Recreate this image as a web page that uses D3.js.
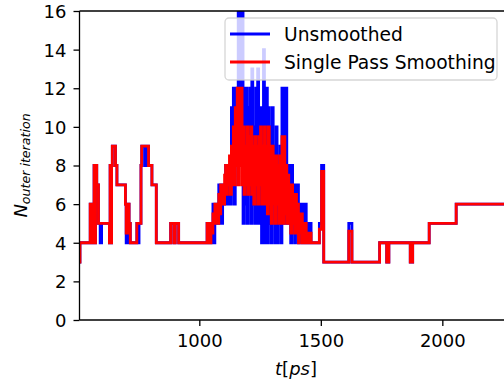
<!DOCTYPE html>
<html lang="en">
<head>
<meta charset="utf-8" />
<title>outer iterations</title>
<script src="https://d3js.org/d3.v7.min.js"></script>
<style>
  body { margin: 0; background: #fff; }
  svg text { font-family: "DejaVu Sans", sans-serif; fill: #000; }
</style>
</head>
<body>
<div id="chart"></div>
<script>
// time breakpoints [ps] and iteration counts
const timesEarly = [507, 509, 551, 554, 557, 560, 563, 567, 570, 573,
  578, 585, 592, 598, 630, 633, 636, 639, 642, 655,
  661, 696, 699, 702, 705, 708, 711, 716, 743, 749,
  752, 760, 763, 775, 779, 791, 805, 823, 882, 895,
  901, 915];
const unsmoothedEarly = [3, 4, 6, 4, 6, 4, 6, 8, 4, 8,
  7, 5, 4, 5, 4, 8, 4, 8, 9, 8,
  7, 6, 4, 6, 4, 6, 5, 4, 5, 4,
  5, 8, 9, 8, 9, 8, 7, 4, 5, 4,
  5, 4];
const smoothedEarly = [3, 4, 6, 4, 6, 4, 6, 8, 4, 8,
  7, 5, 5, 5, 4, 8, 4, 8, 9, 8,
  7, 6, 4.5, 6, 4.5, 6, 5, 4, 5, 5,
  5, 8, 9, 9, 9, 8, 7, 4, 5, 4,
  5, 4];

const timesBurst = [1032, 1036, 1040, 1044, 1048, 1052, 1056, 1060, 1064, 1068,
  1072, 1076, 1080, 1084, 1088, 1092, 1096, 1100, 1104, 1108,
  1112, 1116, 1120, 1124, 1128, 1132, 1136, 1140, 1144, 1148,
  1152, 1156, 1160, 1164, 1168, 1172, 1176, 1180, 1184, 1188,
  1192, 1196, 1200, 1204, 1208, 1212, 1216, 1220, 1224, 1228,
  1232, 1236, 1240, 1244, 1248, 1252, 1256, 1260, 1264, 1268,
  1272, 1276, 1280, 1284, 1288, 1292, 1296, 1300, 1304, 1308,
  1312, 1316, 1320, 1324, 1328, 1332, 1336, 1340, 1344, 1348,
  1352, 1356, 1360, 1364, 1368, 1372, 1376, 1380, 1384, 1388,
  1392, 1396, 1400, 1404, 1408, 1412, 1416, 1420, 1424, 1428,
  1432, 1436, 1440, 1444, 1448, 1452, 1456, 1460, 1464, 1468];
const unsmoothedBurst = [5, 4, 5, 4, 5, 4, 6, 4, 6, 5,
  6, 5, 7, 5, 7, 5, 7, 6, 7, 8,
  6, 8, 6, 8, 6, 11, 7, 12, 6, 12,
  8, 10, 16, 9, 16, 11, 16, 5, 12, 6,
  12, 5, 11, 7, 12, 5, 13, 6, 10, 5,
  12, 5, 13, 5, 9, 11, 4, 10, 14, 4,
  8, 12, 4, 11, 5, 10, 4, 11, 6, 9,
  4, 10, 4, 8, 5, 9, 4, 12, 5, 12,
  5, 12, 5, 8, 5, 8, 4, 8, 5, 7,
  4, 7, 5, 7, 4, 6, 5, 6, 4, 6,
  4, 6, 5, 4, 5, 4, 5, 4, 4, 4];
const smoothedBurst = [5, 4, 5, 4, 5, 4.5, 5.5, 5, 6, 5,
  6, 5, 6.5, 5.5, 7, 6, 7, 6, 7.5, 8,
  6.5, 8, 7, 8.5, 6.5, 9, 7, 10, 7, 11,
  8, 12, 7, 12, 8, 12, 7, 10, 6.5, 9,
  7, 10, 6.5, 9.5, 7, 10, 6.5, 9, 6, 9.5,
  7, 9, 6, 9.5, 7, 10, 6, 9, 6, 10,
  6, 9, 5.5, 10, 6, 9, 5, 9, 6, 8.5,
  5, 8.5, 6, 8, 5, 8.5, 5, 9.5, 5, 9.5,
  5.5, 8, 5, 7.5, 5, 7, 4.5, 7, 5, 6.5,
  4.5, 6.5, 4.5, 6, 4, 5.5, 4.5, 5.5, 4, 5,
  4, 5, 4.5, 4, 4.5, 4, 4.5, 4, 4, 4];

const timesLate = [1494, 1503, 1512, 1615, 1628, 1742, 1771, 1780, 1868, 1878, 1946, 2057, 2300];
const unsmoothedLate = [5, 8, 3, 5, 3, 4, 3, 4, 3, 4, 5, 6, 6];
const smoothedLate = [4.7, 7.7, 3, 4.6, 3, 4, 3, 4, 3, 4, 5, 6, 6];

const xTicks = [1000, 1500, 2000];
const yTicks = [0, 2, 4, 6, 8, 10, 12, 14, 16];
const seriesNames = ["Unsmoothed", "Single Pass Smoothing"];
const seriesColors = ["#0000ff", "#ff0000"];

const W = 504, H = 385;
const plotL = 79.5, plotR = 506, plotT = 11, plotB = 320;
const fontSize = 18;

const times = timesEarly.concat(timesBurst, timesLate);
const series = [
  unsmoothedEarly.concat(unsmoothedBurst, unsmoothedLate),
  smoothedEarly.concat(smoothedBurst, smoothedLate)
];

const x = d3.scaleLinear().domain([507, 2262]).range([plotL, plotR]);
const y = d3.scaleLinear().domain([0, 16]).range([plotB, plotT]);

const svg = d3.select("#chart").append("svg")
  .attr("width", W)
  .attr("height", H);

svg.append("defs").append("clipPath").attr("id", "plotClip")
  .append("rect")
  .attr("x", plotL).attr("y", plotT)
  .attr("width", plotR - plotL).attr("height", plotB - plotT);

// lines, drawn as steps
const line = d3.line()
  .x(function(d, i) { return x(times[i]); })
  .y(function(d) { return y(d); })
  .curve(d3.curveStepAfter);

const plot = svg.append("g").attr("clip-path", "url(#plotClip)");
series.forEach(function(vals, k) {
  plot.append("path")
    .attr("d", line(vals))
    .attr("fill", "none")
    .attr("stroke", seriesColors[k])
    .attr("stroke-width", 2.8)
    .attr("stroke-linejoin", "miter");
});

// axes
const yAxis = d3.axisLeft(y).tickValues(yTicks).tickSize(6).tickPadding(7);
const xAxis = d3.axisBottom(x).tickValues(xTicks).tickSize(6).tickPadding(8)
  .tickFormat(d3.format("d"));

const gy = svg.append("g").attr("transform", "translate(" + plotL + ",0)").call(yAxis);
const gx = svg.append("g").attr("transform", "translate(0," + plotB + ")").call(xAxis);
[gx, gy].forEach(function(g) {
  g.select(".domain").remove();
  g.selectAll(".tick line").attr("stroke", "#000").attr("stroke-width", 1.3);
  g.selectAll(".tick text")
    .style("font-size", fontSize + "px")
    .style("font-family", "DejaVu Sans");
});
gy.selectAll(".tick text").attr("dy", "0.36em");

// spines (right one falls outside the window)
const spines = svg.append("g").attr("stroke", "#000").attr("stroke-width", 1.3);
spines.append("line").attr("x1", plotL).attr("x2", plotL).attr("y1", plotT).attr("y2", plotB);
spines.append("line").attr("x1", plotL).attr("x2", plotR).attr("y1", plotB).attr("y2", plotB);
spines.append("line").attr("x1", plotL).attr("x2", plotR).attr("y1", plotT).attr("y2", plotT);
spines.append("line").attr("x1", plotR).attr("x2", plotR).attr("y1", plotT).attr("y2", plotB);

// axis labels
const xl = svg.append("text")
  .attr("x", 296).attr("y", 375)
  .attr("text-anchor", "middle")
  .style("font-size", fontSize + "px");
xl.append("tspan").attr("font-style", "italic").text("t");
xl.append("tspan").text("[");
xl.append("tspan").attr("font-style", "italic").text("ps");
xl.append("tspan").text("]");

const yl = svg.append("text")
  .attr("transform", "translate(27," + ((plotT + plotB) / 2) + ") rotate(-90)")
  .attr("text-anchor", "middle")
  .style("font-size", "18px")
  .attr("font-style", "italic");
yl.append("tspan").text("N");
yl.append("tspan").attr("dy", 3).style("font-size", "12.6px").text("outer iteration");

// legend
const legend = svg.append("g");
legend.append("rect")
  .attr("x", 225).attr("y", 18)
  .attr("width", 272).attr("height", 62)
  .attr("rx", 4)
  .attr("fill", "#fff").attr("fill-opacity", 0.8)
  .attr("stroke", "#cccccc").attr("stroke-opacity", 0.8)
  .attr("stroke-width", 1.3);
seriesNames.forEach(function(name, k) {
  const ly = 34 + k * 28;
  legend.append("line")
    .attr("x1", 230).attr("x2", 270)
    .attr("y1", ly).attr("y2", ly)
    .attr("stroke", seriesColors[k])
    .attr("stroke-width", 2.8);
  legend.append("text")
    .attr("x", 284).attr("y", ly + 6.5)
    .style("font-size", "18.7px")
    .text(name);
});
</script>
</body>
</html>
